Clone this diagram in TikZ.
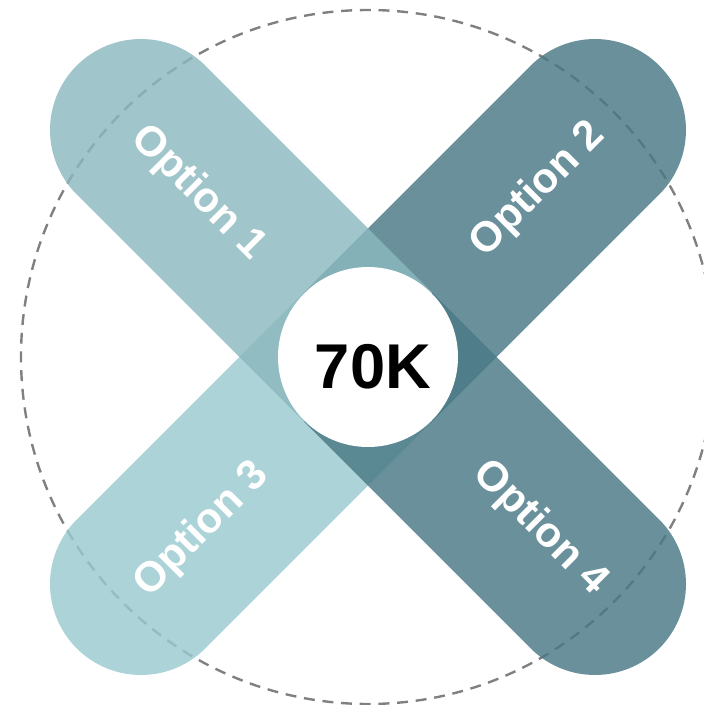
\documentclass[tikz,border=0pt]{standalone}
\usepackage{fontspec}
\setmainfont{Liberation Sans}
\definecolor{optlight}{RGB}{139,184,190}
\definecolor{optpale}{RGB}{154,203,207}
\definecolor{optdark}{RGB}{73,121,133}

\begin{document}
\begin{tikzpicture}[x=0.025cm,y=0.025cm,
  band/.style={fill opacity=0.82},
  label/.style={text=white,font=\bfseries\fontsize{30}{34}\selectfont},
  hub/.style={circle,fill=white,minimum size=180*0.025cm,inner sep=0pt}]

  \useasboundingbox (-368,-348) rectangle (336,357);

  \draw[black!50,line width=1.7pt,dash pattern=on 7.8pt off 5.5pt] (0,0) circle[radius=347];

  \foreach \ang/\col in {225/optpale,45/optdark,135/optlight,-45/optdark}
   \fill[band,\col,rotate=\ang] (0,-91) -- (321,-91) arc[start angle=-90,end angle=90,radius=91] -- (0,91) -- cycle;

  \node[label,rotate=-45] (opt1) at (-170,164) {Option 1};
  \node[label,rotate=45] (opt2) at (170,167) {Option 2};
  \node[label,rotate=45] (opt3) at (-166,-173) {Option 3};
  \node[label,rotate=-45] (opt4) at (172,-171) {Option 4};

  \node[hub] (total) at (0,0) {};
  \node[font=\bfseries\fontsize{45}{50}\selectfont] (value) at ([shift={(5,-10)}]total.center) {70K};

\end{tikzpicture}
\end{document}
